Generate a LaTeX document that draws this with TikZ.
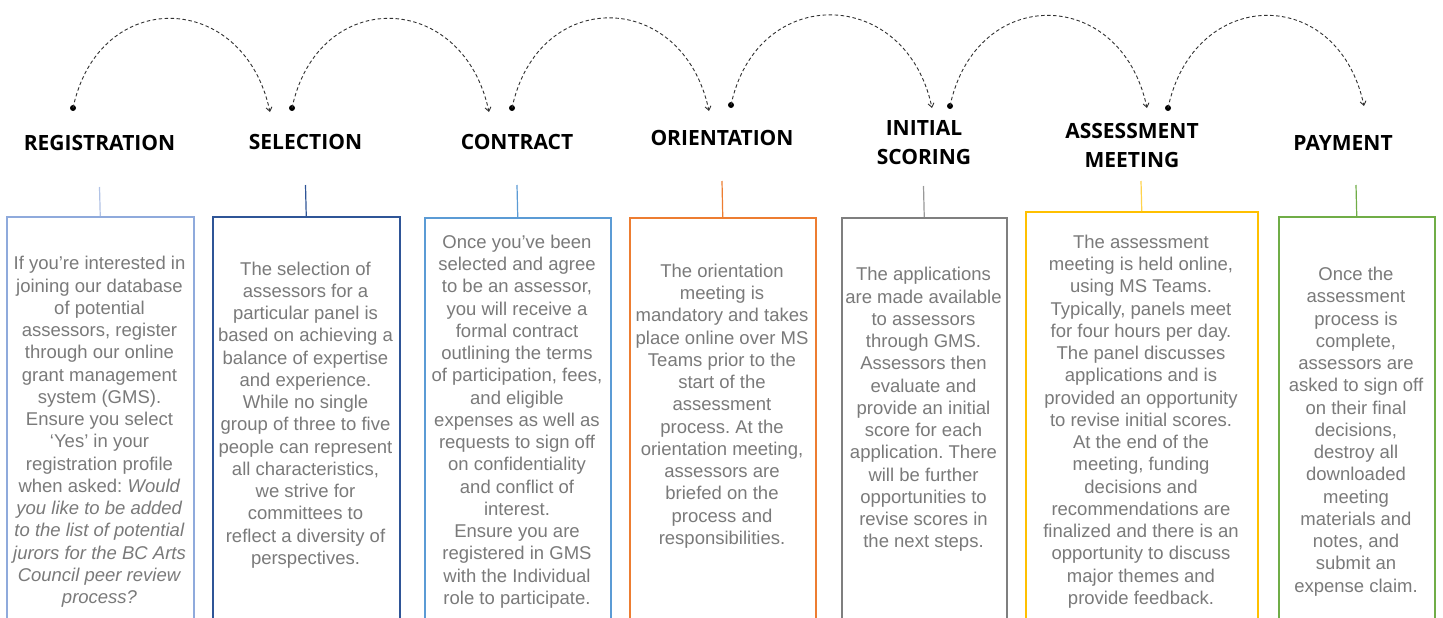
\documentclass[tikz,border=0pt]{standalone}
\usepackage{fontspec}
\setmainfont{Liberation Sans}
\newfontfamily\headfont{Open Sans}
\usetikzlibrary{arrows.meta}
\definecolor{textgray}{HTML}{7A7A7A}
\definecolor{cA}{HTML}{8FAADC}
\definecolor{cB}{HTML}{2F5597}
\definecolor{cC}{HTML}{5B9BD5}
\definecolor{cD}{HTML}{ED7D31}
\definecolor{cE}{HTML}{7F7F7F}
\definecolor{cF}{HTML}{FFC000}
\definecolor{cG}{HTML}{70AD47}
\definecolor{arcgray}{HTML}{303030}
\frenchspacing
\begin{document}
\begin{tikzpicture}[x=1pt,y=-1pt,
  head/.style={font=\headfont\bfseries\fontsize{21}{29}\selectfont, align=center, text=black, inner sep=0pt},
  body/.style={font=\frenchspacing\fontsize{18.5}{22.25}\selectfont, align=center, text=textgray, inner sep=0pt},
  panel/.style={draw=#1, line width=1.5pt, anchor=north west, minimum height=430pt, inner sep=0pt},
  stem/.style={draw=#1, line width=1.2pt},
  hop/.style={draw=arcgray, line width=0.9pt, dash pattern=on 3.5pt off 2.5pt, -{Straight Barb[length=4pt,width=6pt]}},
  dotmark/.style={fill=black}
]
\useasboundingbox (0,0) rectangle (1443,618);
\clip (0,0) rectangle (1443,618);
\fill[white] (0,0) rectangle (1443,618);

% headers
\node[head] (h1) at (99.5,143) {REGISTRATION};
\node[head] (h2) at (305.5,142) {SELECTION};
\node[head] (h3) at (517,142) {CONTRACT};
\node[head] (h4) at (722,138) {ORIENTATION};
\node[head] (h5) at (924,143) {INITIAL\\SCORING};
\node[head] (h6) at (1132,145) {ASSESSMENT\\MEETING};
\node[head] (h7) at (1343,143) {PAYMENT};

% panels
\node[panel=cA, minimum width=187pt] (b1) at (6,216) {};
\node[panel=cB, minimum width=187pt] (b2) at (212,216) {};
\node[panel=cC, minimum width=186pt] (b3) at (424,217) {};
\node[panel=cD, minimum width=186pt] (b4) at (629,217) {};
\node[panel=cE, minimum width=165pt] (b5) at (841,217) {};
\node[panel=cF, minimum width=232pt] (b6) at (1025,211) {};
\node[panel=cG, minimum width=156pt] (b7) at (1278,216) {};

% stems
\coordinate (s1) at (99.5,187);
\coordinate (s2) at (305.5,185);
\coordinate (s3) at (517,185);
\coordinate (s4) at (722,181);
\coordinate (s5) at (923.5,186);
\coordinate (s6) at (1141,181);
\coordinate (s7) at (1356,185);
\draw[stem=cA!70] (s1) -- (b1.north);
\draw[stem=cB] (s2) -- (b2.north);
\draw[stem=cC] (s3) -- (b3.north);
\draw[stem=cD] (s4) -- (b4.north);
\draw[stem=cE!80] (s5) -- (b5.north);
\draw[stem=cF!70] (s6) -- (b6.north);
\draw[stem=cG] (s7) -- (b7.north);

% body texts
\node[body] (t1) at (99.5,432) {If you’re interested in\\joining our database\\of potential\\assessors, register\\through our online\\grant management\\system (GMS).\\Ensure you select\\‘Yes’ in your\\registration profile\\when asked: \textit{Would}\\\textit{you like to be added}\\\textit{to the list of potential}\\\textit{jurors for the BC Arts}\\\textit{Council peer review}\\\textit{process?}};
\node[body] (t2) at (305.5,415) {The selection of\\assessors for a\\particular panel is\\based on achieving a\\balance of expertise\\and experience.\\While no single\\group of three to five\\people can represent\\all characteristics,\\we strive for\\committees to\\reflect a diversity of\\perspectives.};
\node[body] (t3) at (517,421.5) {Once you’ve been\\selected and agree\\to be an assessor,\\you will receive a\\formal contract\\outlining the terms\\of participation, fees,\\and eligible\\expenses as well as\\requests to sign off\\on confidentiality\\and conflict of\\interest.\\Ensure you are\\registered in GMS\\with the Individual\\role to participate.};
\node[body] (t4) at (722,406) {The orientation\\meeting is\\mandatory and takes\\place online over MS\\Teams prior to the\\start of the\\assessment\\process. At the\\orientation meeting,\\assessors are\\briefed on the\\process and\\responsibilities.};
\node[body] (t5) at (923.5,409.5) {The applications\\are made available\\to assessors\\through GMS.\\Assessors then\\evaluate and\\provide an initial\\score for each\\application. There\\will be further\\opportunities to\\revise scores in\\the next steps.};
\node[body] (t6) at (1141,421.5) {The assessment\\meeting is held online,\\using MS Teams.\\Typically, panels meet\\for four hours per day.\\The panel discusses\\applications and is\\provided an opportunity\\to revise initial scores.\\At the end of the\\meeting, funding\\decisions and\\recommendations are\\finalized and there is an\\opportunity to discuss\\major themes and\\provide feedback.};
\node[body] (t7) at (1356,431.5) {Once the\\assessment\\process is\\complete,\\assessors are\\asked to sign off\\on their final\\decisions,\\destroy all\\downloaded\\meeting\\materials and\\notes, and\\submit an\\expense claim.};

% arcs
\coordinate (p1) at (73,108);   \coordinate (q1) at (270,112);
\coordinate (p2) at (292,108);  \coordinate (q2) at (489,112);
\coordinate (p3) at (512,108);  \coordinate (q3) at (709,111);
\coordinate (p4) at (731,105);  \coordinate (q4) at (932,108);
\coordinate (p5) at (950,106);  \coordinate (q5) at (1147,108);
\coordinate (p6) at (1168,108); \coordinate (q6) at (1364,106);
\foreach \i in {1,...,6}{
  \fill[dotmark] (p\i) circle (3);
  \draw[hop] (p\i) .. controls +(26,-122) and +(-26,-122) .. (q\i);
}
\end{tikzpicture}
\end{document}
